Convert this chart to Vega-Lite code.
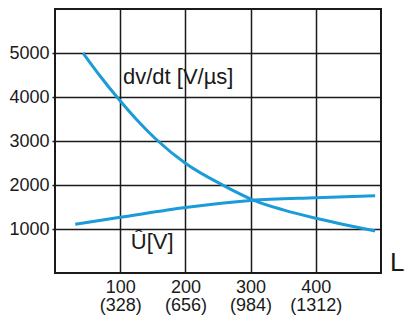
{
  "$schema": "https://vega.github.io/schema/vega-lite/v6.json",
  "width": 326,
  "height": 264,
  "autosize": {"type": "none"},
  "padding": {"left": 55, "top": 9, "right": 25, "bottom": 49},
  "background": "white",
  "config": {
    "font": "Liberation Sans",
    "view": {"stroke": "#1a1a1a", "strokeWidth": 2}
  },
  "datasets": {
    "curves": [
      {"series": "dvdt", "L": 43, "v": 5000},
      {"series": "dvdt", "L": 70, "v": 4460},
      {"series": "dvdt", "L": 95, "v": 4000},
      {"series": "dvdt", "L": 125, "v": 3490},
      {"series": "dvdt", "L": 155, "v": 3040},
      {"series": "dvdt", "L": 200, "v": 2495},
      {"series": "dvdt", "L": 258, "v": 1993},
      {"series": "dvdt", "L": 307, "v": 1640},
      {"series": "dvdt", "L": 350, "v": 1434},
      {"series": "dvdt", "L": 400, "v": 1244},
      {"series": "dvdt", "L": 450, "v": 1079},
      {"series": "dvdt", "L": 491, "v": 956},
      {"series": "U", "L": 31, "v": 1110},
      {"series": "U", "L": 100, "v": 1265},
      {"series": "U", "L": 200, "v": 1490},
      {"series": "U", "L": 300, "v": 1650},
      {"series": "U", "L": 400, "v": 1712},
      {"series": "U", "L": 491, "v": 1755}
    ],
    "labels": [
      {"L": 189, "v": 4450, "text": "dv/dt [V/µs]", "size": "m"},
      {"L": 149, "v": 700, "text": "Û[V]", "size": "m"},
      {"L": 525, "v": 230, "text": "L", "size": "l"}
    ]
  },
  "layer": [
    {
      "data": {"name": "curves"},
      "mark": {"type": "line", "interpolate": "monotone", "color": "#1b9bd7", "strokeWidth": 3},
      "encoding": {
        "x": {
          "field": "L", "type": "quantitative",
          "scale": {"domain": [0, 500], "nice": false, "zero": false},
          "axis": {
            "title": null,
            "values": [100, 200, 300, 400],
            "domain": false,
            "ticks": false,
            "grid": true,
            "gridColor": "#1a1a1a",
            "gridWidth": 1.5,
            "gridOpacity": 1,
            "labelFontSize": 18,
            "labelColor": "#1a1a1a",
            "labelPadding": 5,
            "labelLineHeight": 18,
            "labelExpr": "datum.value == 100 ? ['100', '(328)'] : datum.value == 200 ? ['200', '(656)'] : datum.value == 300 ? ['300', '(984)'] : ['400', '(1312)']"
          }
        },
        "y": {
          "field": "v", "type": "quantitative",
          "scale": {"domain": [0, 6000], "nice": false},
          "axis": {
            "title": null,
            "values": [1000, 2000, 3000, 4000, 5000],
            "format": "d",
            "domain": false,
            "ticks": true,
            "tickSize": 3,
            "tickColor": "#1a1a1a",
            "tickWidth": 1.5,
            "grid": true,
            "gridColor": "#1a1a1a",
            "gridWidth": 1.5,
            "gridOpacity": 1,
            "labelFontSize": 18,
            "labelColor": "#1a1a1a",
            "labelPadding": 3
          }
        },
        "detail": {"field": "series"}
      }
    },
    {
      "data": {"name": "labels"},
      "mark": {"type": "text", "color": "#1a1a1a", "align": "center", "baseline": "middle"},
      "encoding": {
        "x": {"field": "L", "type": "quantitative"},
        "y": {"field": "v", "type": "quantitative"},
        "text": {"field": "text"},
        "size": {"field": "size", "type": "nominal", "scale": {"domain": ["m", "l"], "range": [22, 26]}, "legend": null}
      }
    }
  ]
}
